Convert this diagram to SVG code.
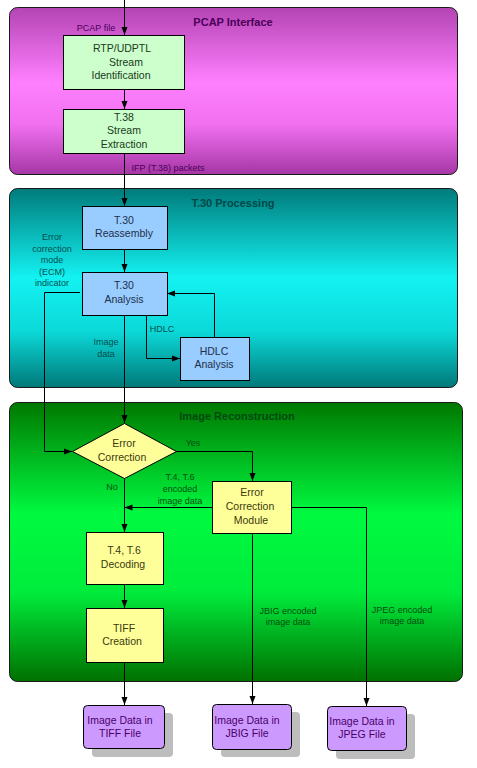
<svg xmlns="http://www.w3.org/2000/svg" width="477" height="768" viewBox="0 0 477 768">
<defs>
<linearGradient id="gPcap" x1="0" y1="0" x2="0" y2="1">
<stop offset="0" stop-color="#B444B4"/>
<stop offset="0.45" stop-color="#FF80FF"/>
<stop offset="0.7" stop-color="#F070F0"/>
<stop offset="1" stop-color="#A636A6"/>
</linearGradient>
<linearGradient id="gT30" x1="0" y1="0" x2="0" y2="1">
<stop offset="0" stop-color="#007B7B"/>
<stop offset="0.45" stop-color="#14F2F2"/>
<stop offset="0.72" stop-color="#0CD8D8"/>
<stop offset="1" stop-color="#007878"/>
</linearGradient>
<linearGradient id="gImg" x1="0" y1="0" x2="0" y2="1">
<stop offset="0" stop-color="#007800"/>
<stop offset="0.4" stop-color="#00FA40"/>
<stop offset="0.68" stop-color="#00EC3C"/>
<stop offset="1" stop-color="#007000"/>
</linearGradient>
<marker id="arr" viewBox="0 0 8 8" refX="8" refY="4" markerWidth="8" markerHeight="8" markerUnits="userSpaceOnUse" orient="auto">
<path d="M0,1 L8,4 L0,7 Z" fill="#000"/>
</marker>
</defs>
<style>
.sec{stroke:#1a1a1a;stroke-width:1}
.title{font-family:"Liberation Sans",Arial,sans-serif;font-size:11px;font-weight:bold;text-anchor:middle}
.node{stroke:#000;stroke-width:1}
.nt{font-family:"Liberation Sans",Arial,sans-serif;font-size:10.5px;text-anchor:middle}
.lbl{font-family:"Liberation Sans",Arial,sans-serif;font-size:9px;text-anchor:middle}
.conn path{fill:none;stroke:#000;stroke-width:1}
.green{fill:#CCFFCC}
.blue{fill:#99CCFF}
.yellow{fill:#FFFF99}
.purple{fill:#CC99FF}
.shadow{fill:#BDBDBD}
</style>

<g id="sec-pcap">
<rect class="sec" x="9.5" y="7.5" width="448" height="167" rx="8" fill="url(#gPcap)"/>
<text class="title" x="233" y="26" fill="#4A0058">PCAP Interface</text>
</g>
<g id="sec-t30">
<rect class="sec" x="9.5" y="188.5" width="448" height="199" rx="8" fill="url(#gT30)"/>
<text class="title" x="233" y="207" fill="#004848">T.30 Processing</text>
</g>
<g id="sec-img">
<rect class="sec" x="9.5" y="402.5" width="453" height="279" rx="8" fill="url(#gImg)"/>
<text class="title" x="237" y="420" fill="#004A10">Image Reconstruction</text>
</g>

<g id="conn" class="conn">
<path d="M124.5,0 V35" marker-end="url(#arr)"/>
<path d="M124.5,89 V109" marker-end="url(#arr)"/>
<path d="M124.5,153 V206" marker-end="url(#arr)"/>
<path d="M124.5,249 V272" marker-end="url(#arr)"/>
<path d="M80,292.5 H44.5 V451.5 H72" marker-end="url(#arr)"/>
<path d="M124.5,315 V423" marker-end="url(#arr)"/>
<path d="M146.5,315 V358.5 H180" marker-end="url(#arr)"/>
<path d="M214.5,337 V293.5 H167" marker-end="url(#arr)"/>
<path d="M176,451.5 H252.5 V481" marker-end="url(#arr)"/>
<path d="M124.5,478 V532" marker-end="url(#arr)"/>
<path d="M212,507.5 H124.5" marker-end="url(#arr)"/>
<path d="M124.5,584 V608" marker-end="url(#arr)"/>
<path d="M124.5,662 V705" marker-end="url(#arr)"/>
<path d="M252.5,533 V704" marker-end="url(#arr)"/>
<path d="M291,507.5 H366.5 V706" marker-end="url(#arr)"/>
</g>

<g id="labels">
<text class="lbl" x="96" y="31" fill="#4A0058">PCAP file</text>
<text class="lbl" x="168" y="171" fill="#4A0058">IFP (T.38) packets</text>
<text class="lbl" fill="#005050"><tspan x="52" y="240">Error</tspan><tspan x="52" y="251.5">correction</tspan><tspan x="52" y="263">mode</tspan><tspan x="52" y="274.5">(ECM)</tspan><tspan x="52" y="286">indicator</tspan></text>
<text class="lbl" x="162" y="332" fill="#005050">HDLC</text>
<text class="lbl" fill="#005050"><tspan x="106" y="345">Image</tspan><tspan x="106" y="356.5">data</tspan></text>
<text class="lbl" x="193" y="446" fill="#005010">Yes</text>
<text class="lbl" x="112" y="490" fill="#005010">No</text>
<text class="lbl" fill="#005010"><tspan x="180" y="480">T.4, T.6</tspan><tspan x="180" y="492">encoded</tspan><tspan x="180" y="504">image data</tspan></text>
<text class="lbl" fill="#005010"><tspan x="288" y="614">JBIG encoded</tspan><tspan x="288" y="625">image data</tspan></text>
<text class="lbl" fill="#005010"><tspan x="402" y="613">JPEG encoded</tspan><tspan x="402" y="624">image data</tspan></text>
</g>

<g id="n-rtp">
<rect class="node green" x="63.5" y="35.5" width="121" height="54"/>
<text class="nt" fill="#203820"><tspan x="122" y="52">RTP/UDPTL</tspan><tspan x="126" y="65.5">Stream</tspan><tspan x="121" y="79">Identification</tspan></text>
</g>
<g id="n-t38">
<rect class="node green" x="63.5" y="109.5" width="121" height="44"/>
<text class="nt" fill="#203820"><tspan x="124" y="121">T.38</tspan><tspan x="124" y="134">Stream</tspan><tspan x="124" y="148">Extraction</tspan></text>
</g>
<g id="n-reasm">
<rect class="node blue" x="82.5" y="206.5" width="85" height="43"/>
<text class="nt" fill="#20304A"><tspan x="124" y="224">T.30</tspan><tspan x="124" y="237">Reassembly</tspan></text>
</g>
<g id="n-analysis">
<rect class="node blue" x="82.5" y="272.5" width="85" height="43"/>
<text class="nt" fill="#20304A"><tspan x="124" y="289">T.30</tspan><tspan x="124" y="303">Analysis</tspan></text>
</g>
<g id="n-hdlc">
<rect class="node blue" x="180.5" y="337.5" width="69" height="43"/>
<text class="nt" fill="#20304A"><tspan x="214" y="355">HDLC</tspan><tspan x="214" y="368">Analysis</tspan></text>
</g>
<g id="n-decision">
<polygon class="node yellow" points="124.5,423.5 176.5,451.5 124.5,478.5 72.5,451.5"/>
<text class="nt" fill="#3A3A10"><tspan x="124" y="447">Error</tspan><tspan x="122" y="461">Correction</tspan></text>
</g>
<g id="n-ecm">
<rect class="node yellow" x="212.5" y="481.5" width="79" height="52"/>
<text class="nt" fill="#3A3A10"><tspan x="252" y="496">Error</tspan><tspan x="250" y="510">Correction</tspan><tspan x="251" y="524">Module</tspan></text>
</g>
<g id="n-decode">
<rect class="node yellow" x="86.5" y="532.5" width="77" height="52"/>
<text class="nt" fill="#3A3A10"><tspan x="124" y="554">T.4, T.6</tspan><tspan x="123" y="568">Decoding</tspan></text>
</g>
<g id="n-tiff">
<rect class="node yellow" x="86.5" y="608.5" width="77" height="54"/>
<text class="nt" fill="#3A3A10"><tspan x="124" y="632">TIFF</tspan><tspan x="122" y="645">Creation</tspan></text>
</g>
<g id="n-out-tiff">
<rect class="shadow" x="92" y="713" width="81" height="44" rx="4"/>
<rect class="node purple" x="83.5" y="705.5" width="81" height="43" rx="4"/>
<text class="nt" fill="#4A0068"><tspan x="120" y="724">Image Data in</tspan><tspan x="120" y="737">TIFF File</tspan></text>
</g>
<g id="n-out-jbig">
<rect class="shadow" x="221" y="712" width="79" height="45" rx="4"/>
<rect class="node purple" x="212.5" y="704.5" width="79" height="45" rx="4"/>
<text class="nt" fill="#4A0068"><tspan x="247" y="724">Image Data in</tspan><tspan x="247" y="737">JBIG File</tspan></text>
</g>
<g id="n-out-jpeg">
<rect class="shadow" x="336" y="714" width="79" height="45" rx="4"/>
<rect class="node purple" x="327.5" y="706.5" width="79" height="44" rx="4"/>
<text class="nt" fill="#4A0068"><tspan x="362" y="725">Image Data in</tspan><tspan x="362" y="738">JPEG File</tspan></text>
</g>
</svg>
